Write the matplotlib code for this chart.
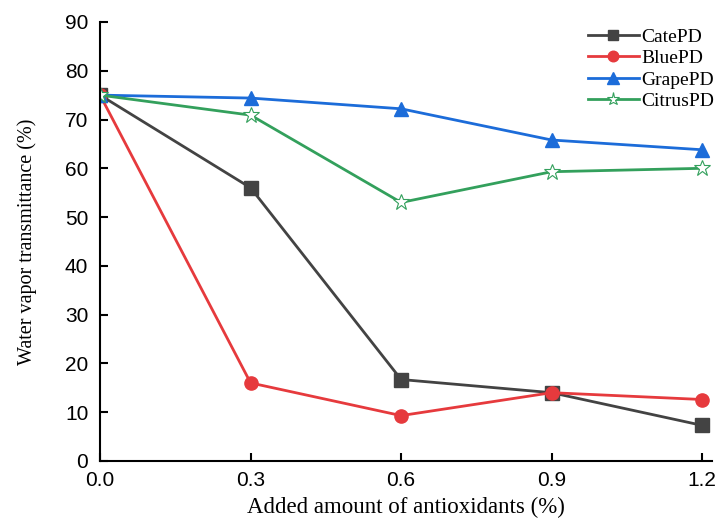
import matplotlib
matplotlib.use("Agg")
import matplotlib.pyplot as plt

x = [0.0, 0.3, 0.6, 0.9, 1.2]
cate = [75.0, 56.0, 16.7, 14.0, 7.3]
blue = [75.0, 16.0, 9.3, 14.0, 12.6]
grape = [75.0, 74.4, 72.2, 65.8, 63.8]
citrus = [75.0, 70.9, 53.0, 59.3, 60.0]
xticks = [0.0, 0.3, 0.6, 0.9, 1.2]
xticklabels = ["0.0", "0.3", "0.6", "0.9", "1.2"]
yticks = [0, 10, 20, 30, 40, 50, 60, 70, 80, 90]

fig = plt.figure(figsize=(7.15, 5.23), dpi=100)
ax = fig.add_axes([0.14, 0.1186, 0.856, 0.8394])

lw = 2.0
ax.plot(x, cate, color="#434343", lw=lw, marker="s", ms=9.5, label="CatePD")
ax.plot(x, blue, color="#e63a3d", lw=lw, marker="o", ms=9.5, label="BluePD")
ax.plot(x, grape, color="#1c6cd9", lw=lw, marker="^", ms=10, label="GrapePD")
ax.plot(x, citrus, color="#33a05c", lw=lw, marker="*", ms=12, mfc="white",
        mec="#33a05c", mew=0.8, label="CitrusPD")

ax.set_xlim(0, 1.22)
ax.set_ylim(0, 90)
ax.set_xticks(xticks)
ax.set_xticklabels(xticklabels)
ax.set_yticks(yticks)
for s in ["top", "right"]:
    ax.spines[s].set_visible(False)
for s in ["left", "bottom"]:
    ax.spines[s].set_linewidth(1.5)
ax.tick_params(direction="in", length=6, width=1.5, labelsize=15)
ax.tick_params(axis="y", pad=8.5)
ax.tick_params(axis="x", pad=7.5)
for lab in ax.get_xticklabels() + ax.get_yticklabels():
    lab.set_fontfamily("Liberation Sans")

ax.set_xlabel("Added amount of antioxidants (%)", fontfamily="Liberation Serif",
              fontsize=16.5, labelpad=5)
ax.set_ylabel("Water vapor transmittance (%)", fontfamily="Liberation Serif",
              fontsize=14.5, labelpad=20)

leg = ax.legend(loc="upper left", bbox_to_anchor=(588 / 715, 1 - 28 / 523),
                bbox_transform=fig.transFigure, frameon=False,
                borderaxespad=0, borderpad=0,
                prop={"family": "Liberation Serif", "size": 14},
                handlelength=2.6, handletextpad=0.15, labelspacing=0.2,
                markerscale=0.8)

fig.savefig("out.png", dpi=100)
